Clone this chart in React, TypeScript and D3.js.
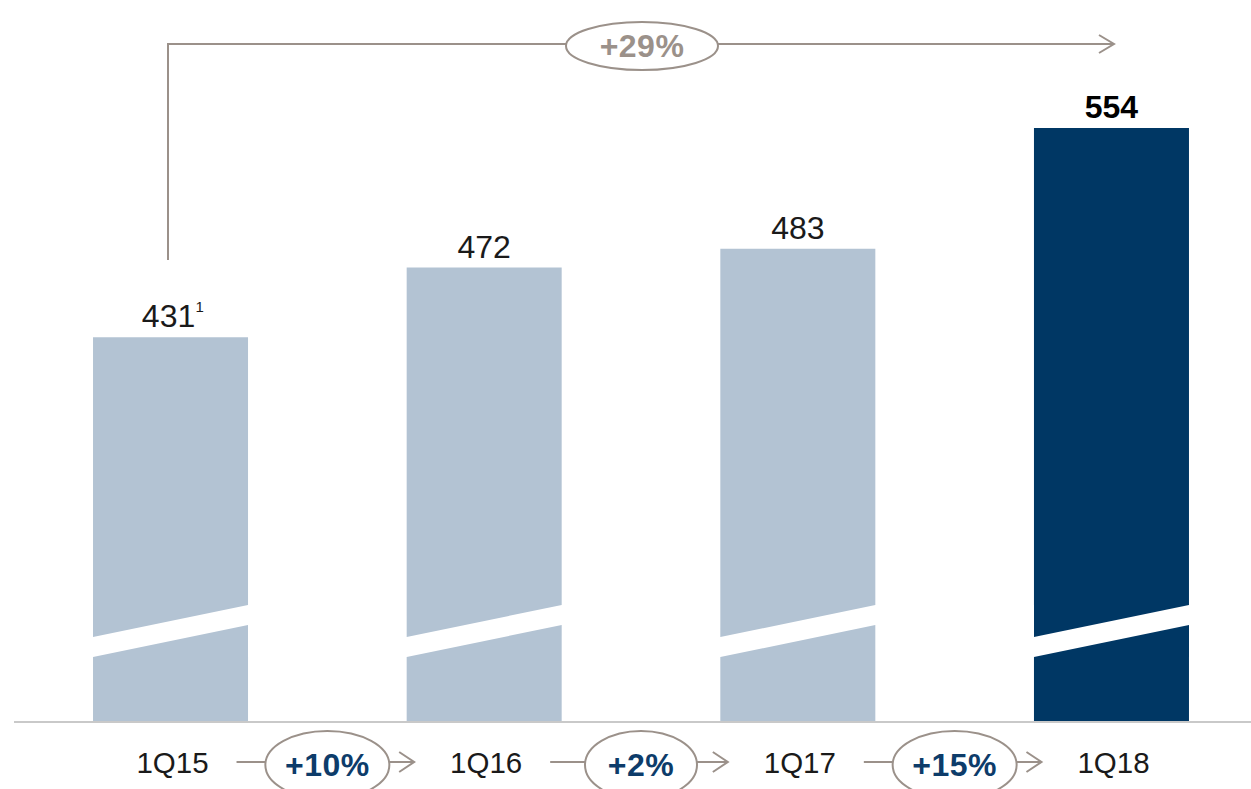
import React from "react";
import * as d3 from "d3";

const categories = ["1Q15", "1Q16", "1Q17", "1Q18"];
const values = [431, 472, 483, 554];
const valueLabels = ["431", "472", "483", "554"];
const growthLabels = ["+10%", "+2%", "+15%"];
const totalGrowth = "+29%";

const W = 1251;
const H = 789;
const baseY = 722;
const gray = "#9b918a";
const light = "#b3c3d3";
const dark = "#003764";
const pctBlue = "#0d3c6a";

export default function App() {
  const x = d3.scaleBand<string>().domain(categories).range([13.7, 1268.3]).paddingInner(0.5058).paddingOuter(0.2529);
  const y = d3.scaleLinear().domain([205, 554]).range([baseY, 128]);
  const bw = x.bandwidth();
  const font = "'Liberation Sans', Arial, Helvetica, sans-serif";

  return (
    <svg width={W} height={H} style={{ position: "absolute", left: 0, top: 0, background: "#fff" }}>
      {categories.map((c, i) => {
        const x0 = x(c)!;
        const top = y(values[i]);
        const fill = i === categories.length - 1 ? dark : light;
        const upperL = 637, upperR = 605, lowerL = 657, lowerR = 625;
        const topPath = `M${x0},${top}H${x0 + bw}V${upperR}L${x0},${upperL}Z`;
        const botPath = `M${x0},${lowerL}L${x0 + bw},${lowerR}V${baseY}H${x0}Z`;
        const cx = x0 + bw / 2;
        const bold = i === categories.length - 1;
        return (
          <g key={c}>
            <path d={topPath} fill={fill} />
            <path d={botPath} fill={fill} />
            <text x={cx + (i === 0 ? -2 : 0)} y={top - 10} textAnchor="middle" fontFamily={font} fontSize={32}
              fontWeight={bold ? 700 : 400} fill={bold ? "#000" : "#1a1a1a"}>
              {valueLabels[i]}
            </text>
            {i === 0 && (
              <text x={cx + 25} y={top - 25} fontFamily={font} fontSize={15} fill="#1a1a1a">1</text>
            )}
            <text x={cx + 2} y={773} textAnchor="middle" fontFamily={font} fontSize={29.5} fill="#1a1a1a">{c}</text>
          </g>
        );
      })}
      <line x1={14} x2={1251} y1={baseY} y2={baseY} stroke="#c9c9c9" strokeWidth={2} />
      {growthLabels.map((g, i) => {
        const a = x(categories[i])! + bw / 2;
        const b = x(categories[i + 1])! + bw / 2;
        const mid = (a + b) / 2;
        const rx = g.length > 3 ? 62 : 56;
        const cy = 763;
        return (
          <g key={g}>
            <line x1={a + 66} x2={mid - rx} y1={cy - 1} y2={cy - 1} stroke={gray} strokeWidth={2} />
            <line x1={mid + rx} x2={b - 70} y1={cy - 1} y2={cy - 1} stroke={gray} strokeWidth={2} />
            <path d={`M${b - 85},${cy - 11}L${b - 70},${cy - 1}L${b - 85},${cy + 9}`} fill="none" stroke={gray} strokeWidth={2} />
            <ellipse cx={mid} cy={cy + 2} rx={rx} ry={34} fill="#fff" stroke={gray} strokeWidth={2} />
            <text x={mid} y={cy + 13} textAnchor="middle" fontFamily={font} fontSize={32} fontWeight={700} fill={pctBlue} letterSpacing={0.5}>{g}</text>
          </g>
        );
      })}
      <g>
        <path d={`M168,260V44H1114`} fill="none" stroke={gray} strokeWidth={2} />
        <path d={`M1099,35L1114,44L1099,53`} fill="none" stroke={gray} strokeWidth={2} />
        <ellipse cx={642} cy={46} rx={76} ry={24} fill="#fff" stroke={gray} strokeWidth={2} />
        <text x={642} y={57} textAnchor="middle" fontFamily={font} fontSize={32} fontWeight={700} fill={gray} letterSpacing={0.5}>{totalGrowth}</text>
      </g>
    </svg>
  );
}
